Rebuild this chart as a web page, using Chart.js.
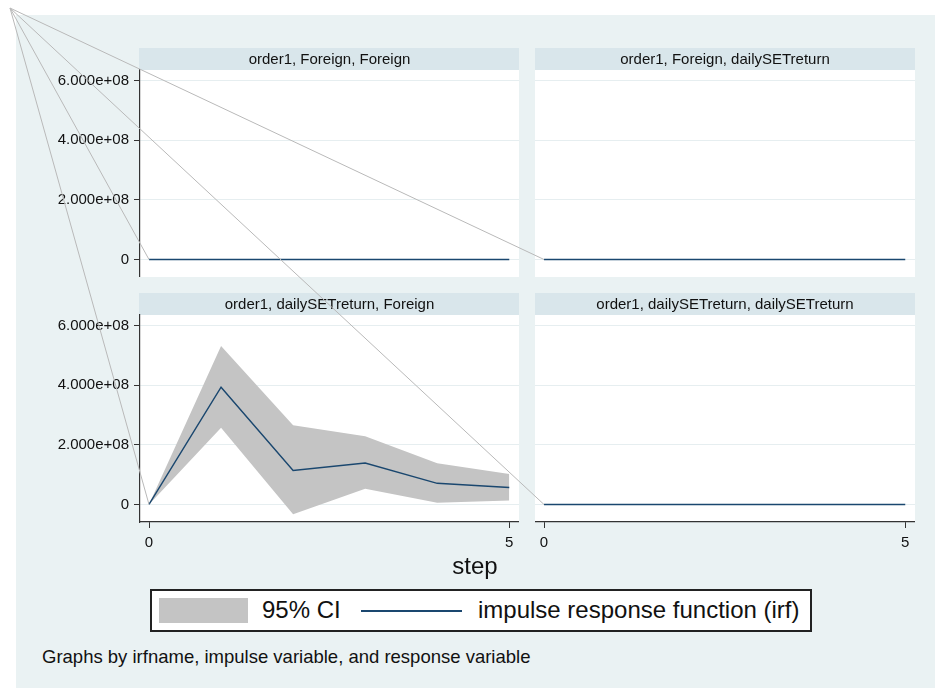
<!DOCTYPE html>
<html lang="en">
<head>
<meta charset="UTF-8">
<title>IRF graph</title>
<script src="https://cdn.jsdelivr.net/npm/chart.js"></script>
<style>
  body { margin: 0; background: #fff; font-family: "Liberation Sans", Arial, sans-serif; }
  #page { position: relative; width: 935px; height: 688px; overflow: hidden; background: #fff; }
  #bg { position: absolute; left: 16px; top: 15px; right: 0; bottom: 0; background: #eaf2f3; }
  .panel { position: absolute; }
  #xtitle { position: absolute; left: 375px; width: 200px; top: 552px; text-align: center; font-size: 24px; color: #111; }
  #legend { position: absolute; left: 150px; top: 589px; width: 658px; height: 39px; border: 2px solid #222; background: #fff; }
  #legend .swatch { position: absolute; left: 7px; top: 7px; width: 89px; height: 25px; background: #c4c4c4; }
  #legend .key { position: absolute; left: 209px; top: 19px; width: 101px; height: 0; border-top: 2px solid #1a476f; }
  #legend .lbl { position: absolute; top: 5px; font-size: 24px; color: #111; white-space: nowrap; }
  #note { position: absolute; left: 42px; top: 646px; font-size: 18.5px; color: #111; white-space: nowrap; }
  #overlay { position: absolute; left: 0; top: 0; pointer-events: none; }
</style>
</head>
<body>
<div id="page">
  <div id="bg"></div>
  <canvas id="p1" class="panel" width="499" height="229" style="left:20px; top:48px"></canvas>
  <canvas id="p2" class="panel" width="380" height="229" style="left:535px; top:48px"></canvas>
  <canvas id="p3" class="panel" width="499" height="265" style="left:20px; top:293px"></canvas>
  <canvas id="p4" class="panel" width="380" height="265" style="left:535px; top:293px"></canvas>
  <div id="xtitle"></div>
  <div id="legend">
    <span class="swatch"></span><span class="lbl" id="lbl0" style="left:110px"></span>
    <span class="key"></span><span class="lbl" id="lbl1" style="left:326px"></span>
  </div>
  <div id="note"></div>
  <canvas id="overlay" width="935" height="688"></canvas>
</div>

<script>
  // values
  const steps = [0, 1, 2, 3, 4, 5];

  const irfForeignForeign = [0, 0, 0, 0, 0, 0];
  const lowForeignForeign = [0, 0, 0, 0, 0, 0];
  const upForeignForeign = [0, 0, 0, 0, 0, 0];

  const irfForeignSET = [0, 0, 0, 0, 0, 0];
  const lowForeignSET = [0, 0, 0, 0, 0, 0];
  const upForeignSET = [0, 0, 0, 0, 0, 0];

  const irfSETForeign = [0, 3.93e8, 1.14e8, 1.39e8, 0.71e8, 0.57e8];
  const lowSETForeign = [0, 2.57e8, -0.33e8, 0.53e8, 0.06e8, 0.13e8];
  const upSETForeign = [0, 5.31e8, 2.66e8, 2.29e8, 1.38e8, 1.02e8];

  const irfSETSET = [0, 0, 0, 0, 0, 0];
  const lowSETSET = [0, 0, 0, 0, 0, 0];
  const upSETSET = [0, 0, 0, 0, 0, 0];

  const panelTitles = [
    'order1, Foreign, Foreign',
    'order1, Foreign, dailySETreturn',
    'order1, dailySETreturn, Foreign',
    'order1, dailySETreturn, dailySETreturn'
  ];
  const yTicks = [0, 2e8, 4e8, 6e8];
  const yTickLabels = ['0', '2.000e+08', '4.000e+08', '6.000e+08'];
  const xTicks = [0, 5];
  const xTickLabels = ['0', '5'];
  const xTitle = 'step';
  const legendLabels = ['95% CI', 'impulse response function (irf)'];
  const note = 'Graphs by irfname, impulse variable, and response variable';

  const FONT = '"Liberation Sans", Arial, sans-serif';
  const STRIP = 22;

  document.getElementById('xtitle').textContent = xTitle;
  document.getElementById('lbl0').textContent = legendLabels[0];
  document.getElementById('lbl1').textContent = legendLabels[1];
  document.getElementById('note').textContent = note;

  const pts = arr => steps.map((s, i) => ({ x: s, y: arr[i] }));

  // white plot region plus the title strip above it
  const stripPlugin = {
    id: 'strip',
    beforeDraw(chart, args, opts) {
      const a = chart.chartArea;
      const ctx = chart.ctx;
      ctx.save();
      ctx.fillStyle = '#ffffff';
      ctx.fillRect(a.left, a.top, a.right - a.left, a.bottom - a.top);
      ctx.fillStyle = '#d9e6eb';
      ctx.fillRect(a.left - 1, a.top - STRIP, a.right - a.left + 1, STRIP);
      ctx.fillStyle = '#111';
      ctx.font = '15px ' + FONT;
      ctx.textAlign = 'center';
      ctx.textBaseline = 'middle';
      ctx.fillText(opts.text, (a.left + a.right) / 2, a.top - STRIP / 2 + 1);
      ctx.restore();
    }
  };

  function makePanel(id, title, irf, low, up, showY, showX) {
    const ctx = document.getElementById(id).getContext('2d');
    return new Chart(ctx, {
      type: 'line',
      data: {
        datasets: [
          { label: 'irf', data: pts(irf), borderColor: '#1a476f', borderWidth: 1.4,
            pointRadius: 0, fill: false, tension: 0 },
          { label: 'upper', data: pts(up), borderWidth: 0, borderColor: 'rgba(0,0,0,0)',
            backgroundColor: '#c4c4c4', pointRadius: 0, fill: '+1', tension: 0 },
          { label: 'lower', data: pts(low), borderWidth: 0, borderColor: 'rgba(0,0,0,0)',
            pointRadius: 0, fill: false, tension: 0 }
        ]
      },
      options: {
        responsive: false,
        animation: false,
        layout: { padding: { top: STRIP, right: 0, bottom: 0, left: 0 } },
        plugins: {
          legend: { display: false },
          tooltip: { enabled: false },
          strip: { text: title }
        },
        scales: {
          x: {
            type: 'linear',
            display: showX,
            min: -0.125,
            max: 5.135,
            afterBuildTicks: s => { s.ticks = xTicks.map(v => ({ value: v })); },
            afterFit: s => {
              s.height = showX ? 36 : 0;
              s.paddingLeft = 0; s.paddingRight = 0;
            },
            grid: { drawOnChartArea: false, tickLength: 6, tickColor: '#333' },
            border: { display: true, color: '#333', width: 1.2 },
            ticks: {
              padding: 6,
              color: '#111',
              font: { family: FONT, size: 15 },
              maxRotation: 0,
              callback: (v, i) => xTickLabels[i]
            }
          },
          y: {
            min: -0.587e8,
            max: 6.352e8,
            afterBuildTicks: s => { s.ticks = yTicks.map(v => ({ value: v })); },
            afterFit: s => {
              s.width = showY ? 120 : 0;
              s.paddingTop = 0; s.paddingBottom = 0;
            },
            grid: { color: '#e6eef0', lineWidth: 1, tickLength: showY ? 6 : 0,
                    drawTicks: showY, tickColor: '#333' },
            border: { display: showY, color: '#333', width: 1.2 },
            ticks: {
              display: showY,
              padding: 5,
              color: '#111',
              font: { family: FONT, size: 15 },
              callback: (v, i) => yTickLabels[i]
            }
          }
        }
      },
      plugins: [stripPlugin]
    });
  }

  const charts = [
    makePanel('p1', panelTitles[0], irfForeignForeign, lowForeignForeign, upForeignForeign, true, false),
    makePanel('p2', panelTitles[1], irfForeignSET, lowForeignSET, upForeignSET, false, false),
    makePanel('p3', panelTitles[2], irfSETForeign, lowSETForeign, upSETForeign, true, true),
    makePanel('p4', panelTitles[3], irfSETSET, lowSETSET, upSETSET, false, true)
  ];

  // stray grey strokes in the source image: from the top-left corner to each irf start point
  const ov = document.getElementById('overlay').getContext('2d');
  ov.strokeStyle = '#b9b9b9';
  ov.lineWidth = 1;
  charts.forEach(ch => {
    const c = ch.canvas;
    const px = c.offsetLeft + ch.scales.x.getPixelForValue(steps[0]);
    const py = c.offsetTop + ch.scales.y.getPixelForValue(irfSETForeign[0]);
    ov.beginPath();
    ov.moveTo(10, 8);
    ov.lineTo(px, py);
    ov.stroke();
  });
</script>
</body>
</html>
